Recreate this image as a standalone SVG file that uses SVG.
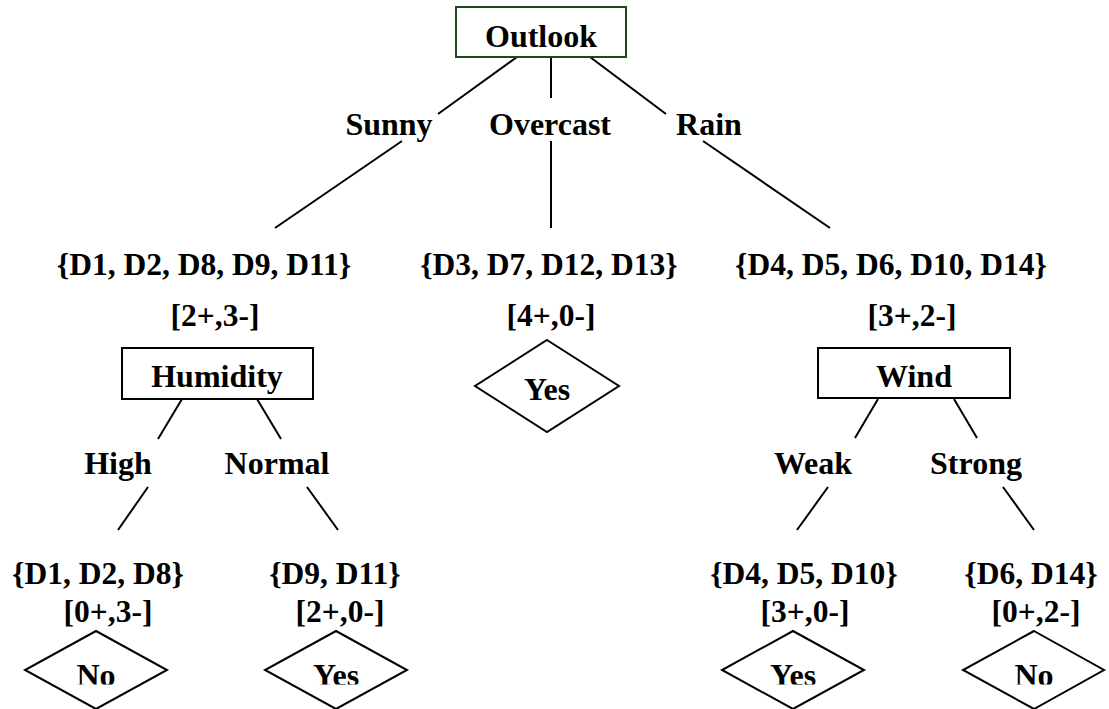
<svg xmlns="http://www.w3.org/2000/svg" width="1109" height="709" viewBox="0 0 1109 709">
  <style>
    text { font-family: "Liberation Serif", "Times New Roman", serif; font-weight: bold; font-size: 32px; fill: #000; text-anchor: middle; }
    .set { font-size: 31.5px; }
    .box { fill: #fff; stroke: #000; stroke-width: 2; }
    .root { stroke: #1c4a1c; }
    .leaf { fill: #fff; stroke: #000; stroke-width: 2; }
    .edge { stroke: #000; stroke-width: 2; fill: none; }
  </style>
  <defs>
    <!-- leaf captions on the last row are cut off along the lower edge -->
    <clipPath id="bottom-cut">
      <rect x="0" y="0" width="1109" height="684.5"/>
    </clipPath>
  </defs>
  <rect width="1109" height="709" fill="#fff"/>

  <!-- connectors -->
  <g id="connectors">
    <line class="edge" x1="517" y1="57" x2="438" y2="114"/>
    <line class="edge" x1="402" y1="141" x2="275" y2="228"/>
    <line class="edge" x1="551" y1="57" x2="551" y2="98"/>
    <line class="edge" x1="551" y1="141" x2="551" y2="228"/>
    <line class="edge" x1="590" y1="57" x2="666" y2="114"/>
    <line class="edge" x1="703" y1="141" x2="830" y2="228"/>

    <line class="edge" x1="182" y1="399" x2="158" y2="439"/>
    <line class="edge" x1="257" y1="399" x2="281" y2="439"/>
    <line class="edge" x1="148" y1="487" x2="118" y2="530"/>
    <line class="edge" x1="307" y1="487" x2="338" y2="530"/>

    <line class="edge" x1="878" y1="399" x2="855" y2="438"/>
    <line class="edge" x1="954" y1="399" x2="977" y2="438"/>
    <line class="edge" x1="828" y1="487" x2="797" y2="530"/>
    <line class="edge" x1="1003" y1="487" x2="1034" y2="530"/>
  </g>

  <!-- root attribute -->
  <g id="outlook">
    <rect class="box root" x="456" y="7" width="170" height="50"/>
    <text x="541" y="47">Outlook</text>
  </g>

  <!-- branch labels -->
  <g id="label-sunny"><text x="389" y="135">Sunny</text></g>
  <g id="label-overcast"><text x="550" y="135">Overcast</text></g>
  <g id="label-rain"><text x="709" y="135">Rain</text></g>

  <!-- first-level subsets -->
  <g id="set-sunny">
    <text class="set" x="204" y="275">{D1, D2, D8, D9, D11}</text>
    <text class="set" x="215" y="326">[2+,3-]</text>
  </g>
  <g id="set-overcast">
    <text class="set" x="549" y="275">{D3, D7, D12, D13}</text>
    <text class="set" x="551" y="326">[4+,0-]</text>
  </g>
  <g id="set-rain">
    <text class="set" x="891" y="275">{D4, D5, D6, D10, D14}</text>
    <text class="set" x="912" y="326">[3+,2-]</text>
  </g>

  <!-- second-level attributes -->
  <g id="humidity">
    <rect class="box" x="122" y="348" width="191" height="51"/>
    <text x="217" y="387">Humidity</text>
  </g>
  <g id="wind">
    <rect class="box" x="818" y="348" width="192" height="50"/>
    <text x="914" y="387">Wind</text>
  </g>

  <!-- overcast leaf -->
  <g id="leaf-overcast">
    <polygon class="leaf" points="547,340 619,386 547,432 475,386"/>
    <text x="547" y="400">Yes</text>
  </g>

  <!-- second-level branch labels -->
  <g id="label-high"><text x="118" y="474">High</text></g>
  <g id="label-normal"><text x="277" y="474">Normal</text></g>
  <g id="label-weak"><text x="813" y="474">Weak</text></g>
  <g id="label-strong"><text x="976" y="474">Strong</text></g>

  <!-- second-level subsets -->
  <g id="set-high">
    <text class="set" x="98" y="584">{D1, D2, D8}</text>
    <text class="set" x="108" y="622">[0+,3-]</text>
  </g>
  <g id="set-normal">
    <text class="set" x="335" y="584">{D9, D11}</text>
    <text class="set" x="340" y="622">[2+,0-]</text>
  </g>
  <g id="set-weak">
    <text class="set" x="804" y="584">{D4, D5, D10}</text>
    <text class="set" x="805" y="622">[3+,0-]</text>
  </g>
  <g id="set-strong">
    <text class="set" x="1031" y="584">{D6, D14}</text>
    <text class="set" x="1036" y="622">[0+,2-]</text>
  </g>

  <!-- leaves -->
  <g id="leaf-high">
    <polygon class="leaf" points="96,631 167,670 96,709 25,670"/>
    <text x="96" y="686" clip-path="url(#bottom-cut)">No</text>
  </g>
  <g id="leaf-normal">
    <polygon class="leaf" points="336,631 407,670 336,709 265,670"/>
    <text x="336" y="686" clip-path="url(#bottom-cut)">Yes</text>
  </g>
  <g id="leaf-weak">
    <polygon class="leaf" points="793,631 864,670 793,709 722,670"/>
    <text x="793" y="686" clip-path="url(#bottom-cut)">Yes</text>
  </g>
  <g id="leaf-strong">
    <polygon class="leaf" points="1034,631 1104,670 1034,709 963,670"/>
    <text x="1034" y="686" clip-path="url(#bottom-cut)">No</text>
  </g>
</svg>
